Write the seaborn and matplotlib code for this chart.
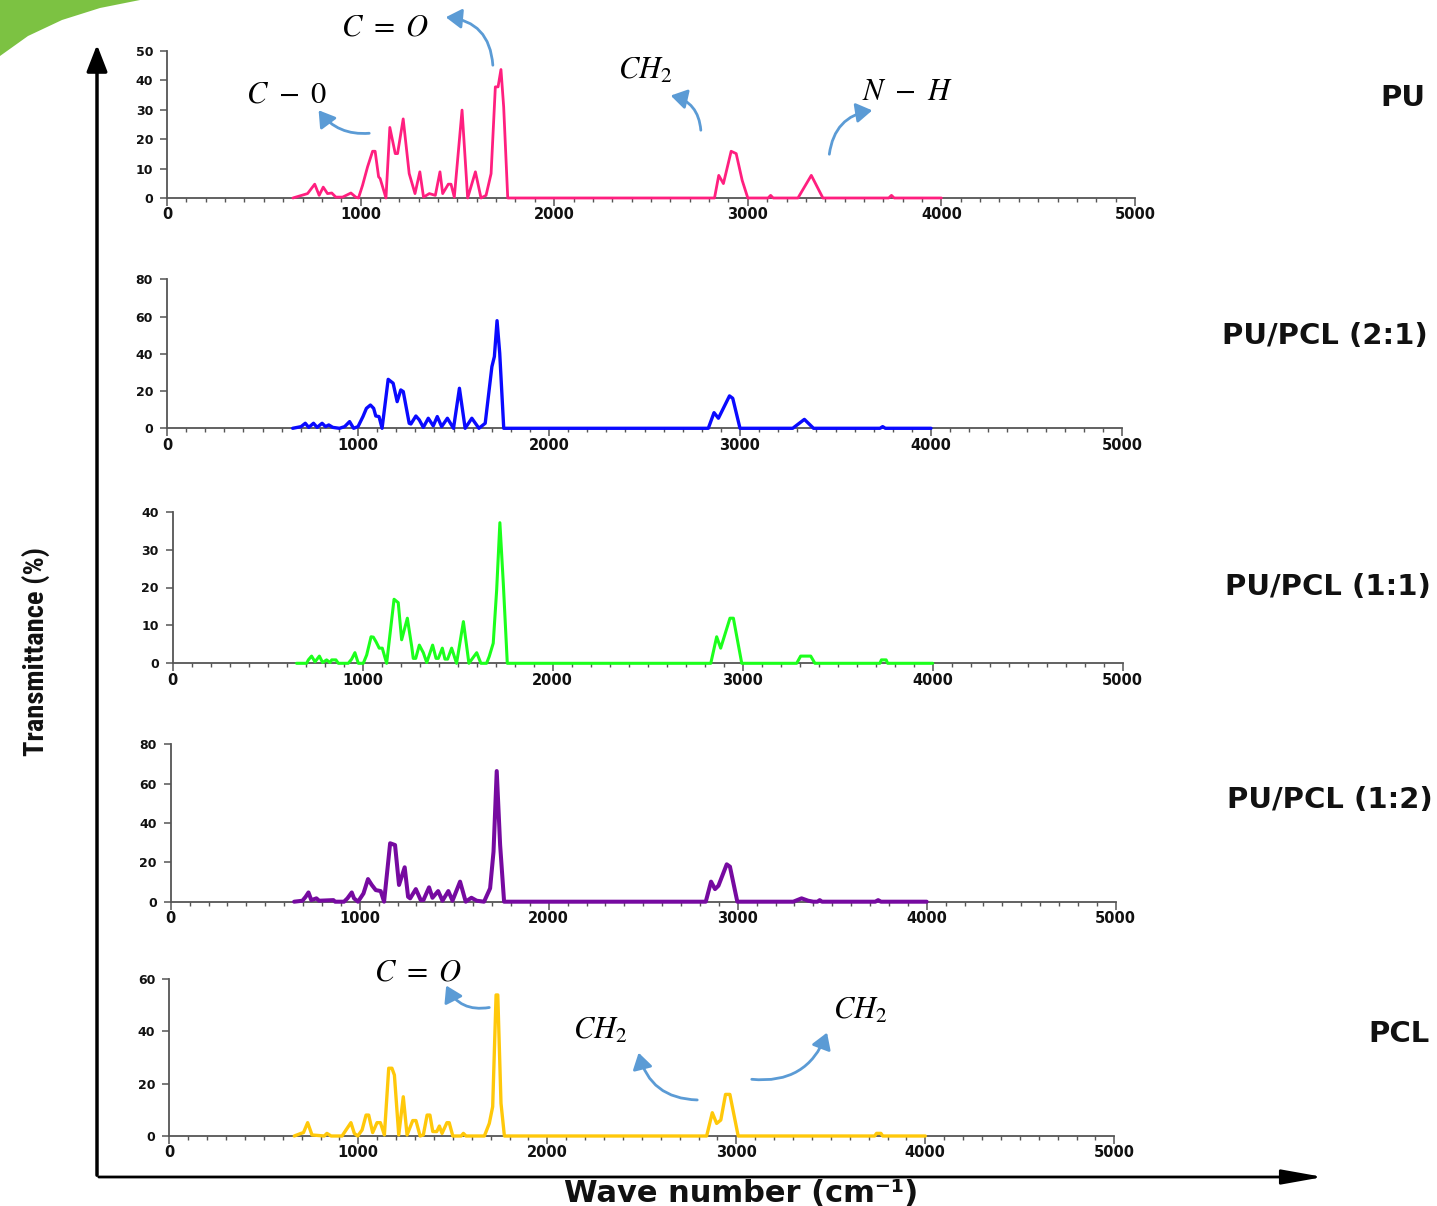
import numpy as np
import pandas as pd
import matplotlib
matplotlib.use("Agg")
import matplotlib.pyplot as plt
import seaborn as sns
from matplotlib import font_manager
from matplotlib.patches import FancyArrowPatch, Polygon
from matplotlib.ticker import MultipleLocator

sns.set_style("ticks")
plt.rcParams["font.family"] = ["DejaVu Sans"]
plt.rcParams["mathtext.fontset"] = "stix"

# ---------------- data ----------------
samples = ["PU", "PU/PCL (2:1)", "PU/PCL (1:1)", "PU/PCL (1:2)", "PCL"]
colors = ["#ff1f7f", "#0a0aff", "#1cff1c", "#760aa0", "#ffc80a"]
y_max = [50, 80, 40, 80, 60]
y_step = [10, 20, 10, 20, 20]
x_ticks = [0, 1000, 2000, 3000, 4000, 5000]

pu_wn = [650, 726, 763, 786, 807, 829, 851, 872, 907, 950, 975, 989, 1010, 1036, 1062, 1075,
         1093, 1101, 1131, 1151, 1179, 1191, 1220, 1251, 1281, 1306, 1325, 1355, 1386, 1410,
         1424, 1453, 1467, 1484, 1524, 1553, 1593, 1622, 1648, 1674, 1696, 1710, 1725, 1739,
         1760, 2828, 2850, 2874, 2914, 2940, 2971, 3000, 3105, 3118, 3131, 3259, 3328, 3388,
         3728, 3742, 3756, 4000]
pu_t = [0, 1.5, 4.7, 0.9, 3.7, 1.5, 1.7, 0.3, 0.3, 1.7, 0.3, 0, 4.3, 10.6, 15.9, 15.9,
        7.2, 6.6, 0, 24.0, 15.1, 15.1, 26.9, 8.3, 1.5, 8.9, 0.3, 1.5, 0.9, 8.9,
        1.5, 4.7, 4.7, 0.3, 29.9, 0, 8.9, 0, 0.9, 8.3, 37.8, 37.8, 43.7, 31.0,
        0, 0, 7.7, 4.9, 15.9, 15.1, 6.0, 0, 0, 0.9, 0, 0, 7.7, 0,
        0, 0.9, 0, 0]

pcl21_wn = [658, 702, 724, 742, 767, 786, 812, 830, 847, 868, 903, 930, 956, 977, 1000, 1026,
            1044, 1065, 1082, 1093, 1110, 1126, 1158, 1184, 1205, 1224, 1237, 1268, 1277, 1303,
            1321, 1342, 1368, 1394, 1415, 1438, 1468, 1500, 1531, 1561, 1596, 1633, 1666, 1701,
            1714, 1728, 1742, 1763, 2834, 2864, 2887, 2945, 2962, 3000, 3276, 3337, 3385,
            3733, 3747, 3761, 4000]
pcl21_t = [0, 0.9, 2.7, 0.5, 2.7, 0.5, 2.7, 0.9, 1.8, 0.5, 0, 0.9, 3.6, 0, 0.9, 6.3,
           10.7, 12.5, 10.7, 6.6, 6.3, 0, 26.3, 24.2, 14.3, 20.6, 19.7, 2.7, 2.3, 6.6,
           4.5, 0.5, 5.4, 1.3, 6.3, 0.9, 5.4, 0, 21.5, 0, 5.4, 0, 2.7, 33.1,
           38.5, 57.8, 40.3, 0, 0, 8.4, 5.4, 17.4, 16.1, 0, 0, 4.8, 0,
           0, 0.9, 0, 0]

pcl11_wn = [652, 705, 714, 731, 749, 772, 789, 810, 828, 837, 859, 872, 924, 942, 959, 977,
            1003, 1021, 1044, 1056, 1070, 1087, 1103, 1126, 1165, 1187, 1205, 1235, 1258, 1266,
            1279, 1298, 1319, 1337, 1368, 1386, 1398, 1419, 1433, 1447, 1468, 1494, 1530, 1559,
            1600, 1622, 1652, 1666, 1687, 1705, 1722, 1740, 1761, 2832, 2863, 2884, 2933, 2951,
            2995, 3284, 3305, 3358, 3380, 3722, 3730, 3755, 3763, 4000]
pcl11_t = [0, 0, 0.9, 1.9, 0.4, 1.9, 0.2, 0.9, 0.2, 0.9, 0.9, 0, 0, 1.1, 2.8, 0,
           0, 2.2, 7.0, 6.9, 5.7, 4.0, 4.0, 0, 16.9, 16.0, 6.2, 11.9, 4.4, 1.3,
           1.3, 4.8, 2.8, 0.2, 4.8, 1.3, 1.3, 4.0, 1.1, 1.1, 4.0, 0, 11.0, 0,
           2.8, 0, 0, 1.8, 5.3, 19.3, 37.1, 21.1, 0, 0, 7.0, 4.0, 11.9, 11.9,
           0, 0, 1.9, 1.9, 0, 0, 0.9, 0.9, 0, 0]

pcl12_wn = [653, 697, 714, 729, 744, 771, 785, 861, 870, 917, 935, 958, 970, 991, 1020, 1044,
            1064, 1085, 1111, 1129, 1161, 1187, 1208, 1238, 1256, 1267, 1297, 1323, 1337, 1367,
            1385, 1415, 1438, 1469, 1491, 1531, 1561, 1591, 1619, 1658, 1690, 1708, 1725, 1743,
            1764, 2831, 2859, 2880, 2898, 2942, 2959, 2998, 3294, 3338, 3373, 3400, 3422, 3434,
            3446, 3728, 3743, 3758, 4000]
pcl12_t = [0, 0.5, 2.5, 4.7, 0.8, 1.7, 0.5, 0.8, 0, 0, 1.7, 4.7, 1.7, 0, 4.2, 11.5,
           8.5, 5.9, 5.4, 0, 29.7, 28.8, 8.5, 17.5, 2.5, 1.7, 6.4, 0.8, 0.8, 7.3,
           2.0, 5.4, 0.5, 5.4, 0.5, 10.2, 0, 2.0, 0.5, 0, 6.8, 25.4, 66.4, 28.8,
           0, 0, 10.2, 6.4, 8.1, 19.0, 17.8, 0, 0, 1.7, 0.5, 0, 0, 0.8,
           0, 0, 0.8, 0, 0]

pcl_wn = [661, 697, 710, 732, 755, 820, 834, 856, 914, 935, 961, 979, 997, 1020, 1041, 1055,
          1076, 1099, 1117, 1138, 1161, 1178, 1191, 1214, 1238, 1258, 1288, 1305, 1327, 1344,
          1364, 1379, 1394, 1415, 1429, 1443, 1469, 1481, 1500, 1544, 1556, 1570, 1667, 1693,
          1711, 1729, 1738, 1755, 1773, 2843, 2873, 2896, 2918, 2943, 2966, 3010, 3732, 3742,
          3765, 3775, 4000]
pcl_t = [0, 1.0, 1.3, 5.1, 0.4, 0, 1.0, 0, 0, 2.3, 5.1, 1.0, 0, 2.3, 8.0, 8.0,
         1.3, 5.1, 5.1, 0.4, 25.9, 25.9, 23.3, 0.4, 15.0, 0.4, 5.9, 5.9, 0, 0.4,
         8.0, 8.0, 1.7, 1.7, 3.8, 1.0, 5.1, 5.1, 0, 0, 1.0, 0, 0, 4.8,
         11.2, 53.9, 53.9, 12.5, 0, 0, 8.9, 4.8, 6.1, 15.9, 15.9, 0, 0, 1.0,
         1.0, 0, 0]

spectra = [(pu_wn, pu_t), (pcl21_wn, pcl21_t), (pcl11_wn, pcl11_t),
           (pcl12_wn, pcl12_t), (pcl_wn, pcl_t)]

# ---------------- narrow font for y label ----------------
installed = {f.name for f in font_manager.fontManager.ttflist}
narrow = None
for cand in ["Liberation Sans Narrow", "DejaVu Sans Condensed", "Roboto Condensed",
             "Open Sans Condensed", "Noto Sans Condensed"]:
    if cand in installed:
        narrow = cand
        break
if narrow is not None:
    ylab_family, ylab_size = [narrow, "DejaVu Sans"], 20.5
else:
    ylab_family, ylab_size = ["Roboto", "DejaVu Sans"], 17

# ---------------- layout (reference pixels) ----------------
W, H = 1437, 1206
fig = plt.figure(figsize=(W / 100, H / 100), dpi=100)
fig.patch.set_facecolor("white")

boxes = [(167, 1135, 198, 51), (167, 1122, 428.3, 279.3), (172.7, 1122.7, 663.3, 511.7),
         (170.7, 1115.7, 901.7, 744.3), (169.3, 1114.3, 1136, 979)]
lws = [2.0, 2.4, 2.2, 2.9, 2.4]
label_pos = [(1425, 98), (1428, 336), (1431, 587), (1433, 800), (1430, 1034)]


def fx(x):
    return x / W


def fy(y):
    return 1 - y / H


for i, ((wn, tr), box) in enumerate(zip(spectra, boxes)):
    l, r, b, t = box
    ax = fig.add_axes([fx(l), fy(b), (r - l) / W, (b - t) / H])
    df = pd.DataFrame({"wn": wn, "t": tr})
    sns.lineplot(data=df, x="wn", y="t", ax=ax, color=colors[i], linewidth=lws[i],
                 estimator=None, sort=False)
    for ln in ax.lines:
        ln.set_clip_on(False)
        ln.set_zorder(3)
        ln.set_solid_joinstyle("round")
    ax.set_xlim(0, 5000)
    ax.set_ylim(0, y_max[i])
    ax.set_xticks(x_ticks)
    ax.set_xticklabels([str(v) for v in x_ticks])
    ax.xaxis.set_minor_locator(MultipleLocator(100))
    yt = list(range(0, y_max[i] + 1, y_step[i]))
    ax.set_yticks(yt)
    ax.set_yticklabels([str(v) for v in yt])
    ax.set_xlabel("")
    ax.set_ylabel("")
    ax.set_facecolor("none")
    for s in ["top", "right"]:
        ax.spines[s].set_visible(False)
    for s in ["left", "bottom"]:
        ax.spines[s].set_color("#555555")
        ax.spines[s].set_linewidth(1.3)
    ax.tick_params(axis="x", which="major", length=6, width=1.1, color="#555555",
                   direction="out", pad=0.8, labelsize=10.5)
    ax.tick_params(axis="x", which="minor", length=3, width=1.0, color="#555555",
                   direction="out")
    ax.tick_params(axis="y", which="major", length=5, width=1.1, color="#555555",
                   direction="out", pad=5, labelsize=9)
    for lbl in ax.get_xticklabels() + ax.get_yticklabels():
        lbl.set_fontweight("bold")
        lbl.set_color("#111111")
    fig.text(fx(label_pos[i][0]), fy(label_pos[i][1]), samples[i], ha="right",
             va="center", fontsize=21, fontweight="bold", color="#111111")

# ---------------- big axis arrows ----------------
fig.add_artist(FancyArrowPatch((fx(97), fy(1178)), (fx(97), fy(42)),
                               transform=fig.transFigure,
                               arrowstyle="-|>,head_length=0.9,head_width=0.35",
                               mutation_scale=18, color="black", lw=2.5))
fig.add_artist(FancyArrowPatch((fx(96), fy(1177)), (fx(1326), fy(1177)),
                               transform=fig.transFigure,
                               arrowstyle="-|>,head_length=1.4,head_width=0.25",
                               mutation_scale=18, color="black", lw=2.0))

fig.text(fx(741), fy(1193), "Wave number (cm⁻¹)", ha="center", va="center",
         fontsize=22, fontweight="bold", color="#111111")
fig.text(fx(36), fy(652), "Transmittance (%)", ha="center", va="center", rotation=90,
         fontsize=ylab_size, fontweight="bold", color="#111111", family=ylab_family)

# ---------------- annotations ----------------
ann_texts = [(r"$C\ =\ O$", 385, 27), (r"$C\ -\ 0$", 287, 94), (r"$CH_2$", 645, 70),
             (r"$N\ -\ H$", 907, 91), (r"$C\ =\ O$", 418, 972), (r"$CH_2$", 600, 1030),
             (r"$CH_2$", 860, 1010)]
for txt, x, y in ann_texts:
    fig.text(fx(x), fy(y), txt, ha="center", va="center", fontsize=22, color="black")

ann_arrows = [((493, 68), (443, 17), 0.45), ((372, 133), (317, 108), -0.3),
              ((701, 133), (668, 95), 0.4), ((829, 157), (875, 110), -0.4),
              ((492, 1007), (445, 983), -0.4), ((700, 1100), (638, 1050), -0.4),
              ((749, 1079), (828, 1030), 0.4)]
for (tx, ty), (hx, hy), rad in ann_arrows:
    fig.add_artist(FancyArrowPatch((fx(tx), fy(ty)), (fx(hx), fy(hy)),
                                   transform=fig.transFigure,
                                   connectionstyle=f"arc3,rad={rad}",
                                   arrowstyle="-|>,head_length=0.8,head_width=0.5",
                                   mutation_scale=12, color="#5b9bd5", lw=2.0))

# ---------------- decorative corner swoosh ----------------
pts = [(0, 0), (140, 0), (100, 8), (62, 20), (28, 36), (0, 56)]
fig.add_artist(Polygon([(fx(x), fy(y)) for x, y in pts], closed=True,
                       transform=fig.transFigure, facecolor="#7cc242",
                       edgecolor="none"))

fig.savefig("out.png", dpi=100, facecolor="white")
